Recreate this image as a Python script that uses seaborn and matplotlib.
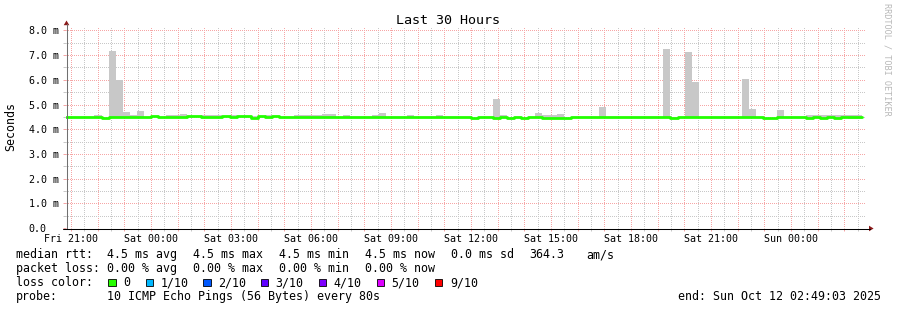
import matplotlib
matplotlib.use("Agg")
import matplotlib.pyplot as plt
from matplotlib.patches import Polygon, Rectangle
from matplotlib.lines import Line2D
import matplotlib.transforms as mtransforms
import numpy as np
import pandas as pd
import seaborn as sns

# ---------------- data ----------------
title = "Last 30 Hours"
y_label = "Seconds"
start_hour = 20 + 49 / 60 + 3 / 3600     # Fri 20:49:03, hours since Fri 00:00
span_hours = 30
bin_minutes = 16

median_ms = [
    4.50, 4.50, 4.50, 4.50, 4.50, 4.46, 4.50, 4.50, 4.50, 4.50,
    4.50, 4.50, 4.54, 4.50, 4.50, 4.50, 4.50, 4.54, 4.54, 4.50,
    4.50, 4.50, 4.54, 4.50, 4.54, 4.54, 4.47, 4.54, 4.50, 4.54,
    4.50, 4.50, 4.50, 4.50, 4.50, 4.50, 4.50, 4.50, 4.50, 4.50,
    4.50, 4.50, 4.50, 4.50, 4.50, 4.50, 4.50, 4.50, 4.50, 4.50,
    4.50, 4.50, 4.50, 4.50, 4.50, 4.50, 4.50, 4.46, 4.50, 4.50,
    4.46, 4.50, 4.46, 4.50, 4.46, 4.50, 4.50, 4.46, 4.46, 4.46,
    4.46, 4.48, 4.48, 4.48, 4.48, 4.48, 4.48, 4.48, 4.48, 4.48,
    4.48, 4.48, 4.48, 4.48, 4.48, 4.46, 4.48, 4.48, 4.48, 4.48,
    4.48, 4.48, 4.48, 4.48, 4.48, 4.48, 4.50, 4.50, 4.46, 4.46,
    4.50, 4.50, 4.50, 4.50, 4.46, 4.50, 4.46, 4.50, 4.46, 4.50,
    4.50, 4.50,
]
smoke_top_ms = [
    4.50, 4.50, 4.50, 4.50, 4.58, 4.46, 7.15, 5.98, 4.71, 4.58,
    4.75, 4.50, 4.54, 4.50, 4.57, 4.57, 4.63, 4.54, 4.54, 4.57,
    4.57, 4.57, 4.54, 4.57, 4.54, 4.54, 4.52, 4.54, 4.57, 4.54,
    4.50, 4.50, 4.57, 4.57, 4.57, 4.57, 4.62, 4.62, 4.50, 4.57,
    4.50, 4.50, 4.50, 4.57, 4.65, 4.50, 4.50, 4.50, 4.57, 4.50,
    4.50, 4.50, 4.57, 4.50, 4.50, 4.50, 4.50, 4.46, 4.50, 4.50,
    5.23, 4.59, 4.46, 4.50, 4.46, 4.50, 4.67, 4.58, 4.58, 4.63,
    4.46, 4.48, 4.48, 4.48, 4.48, 4.91, 4.48, 4.48, 4.48, 4.48,
    4.48, 4.48, 4.48, 4.48, 7.26, 4.51, 4.48, 7.14, 5.90, 4.48,
    4.48, 4.48, 4.48, 4.48, 4.48, 6.04, 4.83, 4.50, 4.46, 4.46,
    4.79, 4.50, 4.50, 4.50, 4.57, 4.57, 4.57, 4.57, 4.57, 4.57,
    4.57, 4.57,
]
smoke_bottom_ms = [
    4.50, 4.50, 4.50, 4.50, 4.50, 4.46, 4.50, 4.50, 4.50, 4.50,
    4.50, 4.50, 4.54, 4.50, 4.50, 4.50, 4.50, 4.54, 4.54, 4.50,
    4.50, 4.50, 4.54, 4.50, 4.54, 4.54, 4.47, 4.54, 4.50, 4.54,
    4.50, 4.50, 4.50, 4.50, 4.50, 4.50, 4.50, 4.50, 4.50, 4.50,
    4.50, 4.50, 4.50, 4.50, 4.50, 4.50, 4.50, 4.50, 4.50, 4.50,
    4.50, 4.50, 4.50, 4.50, 4.50, 4.50, 4.50, 4.46, 4.50, 4.50,
    4.46, 4.50, 4.46, 4.50, 4.46, 4.50, 4.50, 4.46, 4.46, 4.46,
    4.46, 4.48, 4.48, 4.48, 4.48, 4.48, 4.48, 4.48, 4.48, 4.48,
    4.48, 4.48, 4.48, 4.48, 4.48, 4.46, 4.48, 4.48, 4.48, 4.48,
    4.48, 4.48, 4.48, 4.48, 4.48, 4.48, 4.50, 4.50, 4.46, 4.46,
    4.50, 4.50, 4.50, 4.50, 4.46, 4.50, 4.46, 4.50, 4.46, 4.50,
    4.42, 4.42,
]

x_tick_hours = [21, 24, 27, 30, 33, 36, 39, 42, 45, 48]
x_tick_labels = ["Fri 21:00", "Sat 00:00", "Sat 03:00", "Sat 06:00", "Sat 09:00",
                 "Sat 12:00", "Sat 15:00", "Sat 18:00", "Sat 21:00", "Sun 00:00"]
y_tick_values = [0, 1, 2, 3, 4, 5, 6, 7, 8]
y_tick_labels = ["0.0", "1.0 m", "2.0 m", "3.0 m", "4.0 m", "5.0 m", "6.0 m", "7.0 m", "8.0 m"]

legend_rtt = ["median rtt:", "4.5 ms avg", "4.5 ms max", "4.5 ms min", "4.5 ms now",
              "0.0 ms sd", "364.3", "am/s"]
legend_loss = ["packet loss:", "0.00 % avg", "0.00 % max", "0.00 % min", "0.00 % now"]
loss_labels = ["0", "1/10", "2/10", "3/10", "4/10", "5/10", "9/10"]
loss_colors = ["#26ff00", "#00b8ff", "#0059ff", "#5e00ff", "#7e00ff", "#dd00ff", "#ff0000"]
probe_text = "10 ICMP Echo Pings (56 Bytes) every 80s"
end_text = "end: Sun Oct 12 02:49:03 2025"
watermark = "RRDTOOL / TOBI OETIKER"

# ---------------- figure ----------------
W, H = 897, 310
sns.set_theme(style="white")
plt.rcParams['font.family'] = ['DejaVu Sans Mono', 'DejaVu Sans']
plt.rcParams['text.color'] = 'black'

fig = plt.figure(figsize=(W / 100, H / 100), dpi=100)
fig.patch.set_facecolor('white')


def P(x, y):
    return (x / W, 1 - y / H)


# plot area on whole pixels so 1px dotted grid renders crisply
AX_L, AX_R, AX_T, AX_B = 66, 866, 27, 228
PX_PER_MS = 24.7
ax = fig.add_axes([AX_L / W, 1 - AX_B / H, (AX_R - AX_L) / W, (AX_B - AX_T) / H])
ax.set_facecolor('white')
ax.set_xlim(start_hour, start_hour + span_hours)
ax.set_ylim(0, (AX_B - AX_T) / PX_PER_MS)

n = len(median_ms)
step_h = bin_minutes / 60
hours = start_hour + np.arange(n) * step_h
edges = np.append(hours, hours[-1] + step_h)

df = pd.DataFrame({
    "hour": edges,
    "median": median_ms + [median_ms[-1]],
    "top": smoke_top_ms + [smoke_top_ms[-1]],
    "bottom": smoke_bottom_ms + [smoke_bottom_ms[-1]],
})

# smoke
ax.fill_between(df["hour"], df["bottom"], df["top"], step='post',
                color='#c8c8c8', lw=0, zorder=2)
# median line
sns.lineplot(data=df, x="hour", y="median", drawstyle='steps-post', color='#22ff00',
             lw=2.0, ax=ax, legend=False, errorbar=None, zorder=3)
ax.set_xlabel("")
ax.set_ylabel("")

# grid: 1px on / 1px off, offset half a pixel to match snapped line starts
first_h = int(np.ceil(start_hour))
ax.set_xticks(np.arange(first_h, start_hour + span_hours, 1.0))
ax.set_xticks(np.arange(first_h - 0.5, start_hour + span_hours, 1.0)[1:], minor=True)
ax.set_yticks(y_tick_values)
ax.set_yticks(np.arange(0.5, 8.2, 1.0), minor=True)
dots = (0.5, (1, 1))
ax.set_axisbelow(True)
ax.grid(which='major', color='#f6a6a6', lw=0.72, linestyle=dots)
ax.grid(which='minor', color='#c8c8c8', lw=0.72, linestyle=dots)
ax.tick_params(axis='both', which='major', length=2.2, width=0.72, color='#f6a6a6',
               labelbottom=False, labelleft=False, bottom=True, left=True, direction='out')
ax.tick_params(axis='both', which='minor', length=2.2, width=0.72, color='#c8c8c8',
               bottom=True, left=True, direction='out')
for s in ax.spines.values():
    s.set_visible(False)

# axes lines and arrows
fig.add_artist(Line2D([P(AX_L + 0.5, 0)[0]] * 2, [P(0, AX_B + 0.5)[1], P(0, 24)[1]],
                      color='#707070', lw=0.75))
fig.add_artist(Line2D([P(62.5, 0)[0], P(870, 0)[0]], [P(0, AX_B + 0.5)[1]] * 2,
                      color='black', lw=0.75))
fig.add_artist(Polygon([P(AX_L + 0.5 - 2.8, 25.2), P(AX_L + 0.5 + 2.8, 25.2),
                        P(AX_L + 0.5, 20.5)], closed=True, color='#8b1a1a', lw=0))
fig.add_artist(Polygon([P(869, AX_B + 0.5 - 2.8), P(869, AX_B + 0.5 + 2.8),
                        P(873.6, AX_B + 0.5)], closed=True, color='#8b1a1a', lw=0))

# tick labels
tx = mtransforms.blended_transform_factory(ax.transData, fig.transFigure)
for h, lab in zip(x_tick_hours, x_tick_labels):
    ax.text(h, P(0, 241.6)[1], lab, transform=tx, ha='center', va='baseline',
            fontsize=7.2, color='black')
ty = mtransforms.blended_transform_factory(fig.transFigure, ax.transData)
for v, lab in zip(y_tick_values, y_tick_labels):
    ax.text(28.8 / W, v, lab, transform=ty, ha='left', va='center_baseline',
            fontsize=7.2, color='black')

# title, y label, watermark
fig.text(*P(448, 24), title, ha='center', va='baseline', fontsize=9.6)
fig.text(*P(10.8, 126.5), y_label, ha='center', va='center', rotation=90, fontsize=8.4)
fig.text(*P(886.5, 59.5), watermark, ha='center', va='center', rotation=270,
         fontsize=6.1, color='#b8b8b8')

# legend block
LF = 8.4
rtt_x = [15.6, 106.8, 192.8, 278.8, 364.8, 450.6, 529.6, 586.2]
for x, t in zip(rtt_x, legend_rtt):
    fig.text(*P(x, 258.3), t, ha='left', va='baseline', fontsize=LF)
for x, t in zip(rtt_x[:5], legend_loss):
    fig.text(*P(x, 272.3), t, ha='left', va='baseline', fontsize=LF)
fig.text(*P(15.6, 286.3), "loss color:", ha='left', va='baseline', fontsize=LF)
box_x = [108.3, 145.7, 203.3, 261.0, 319.0, 376.7, 435.0]
lab_x = [122.8, 160.2, 217.8, 275.6, 333.6, 391.2, 450.6]
for bx, lx, lab, col in zip(box_x, lab_x, loss_labels, loss_colors):
    x0, y0 = P(bx, 286.0)
    fig.add_artist(Rectangle((x0, y0), 7.4 / W, 7.4 / H, facecolor=col,
                             edgecolor='black', lw=0.6, transform=fig.transFigure))
    fig.text(*P(lx, 286.3), lab, ha='left', va='baseline', fontsize=LF)
fig.text(*P(15.6, 300.3), "probe:", ha='left', va='baseline', fontsize=LF)
fig.text(*P(106.8, 300.3), probe_text, ha='left', va='baseline', fontsize=LF)
fig.text(*P(880.6, 300.3), end_text, ha='right', va='baseline', fontsize=LF)

fig.savefig("out.png", dpi=100, facecolor='white')
